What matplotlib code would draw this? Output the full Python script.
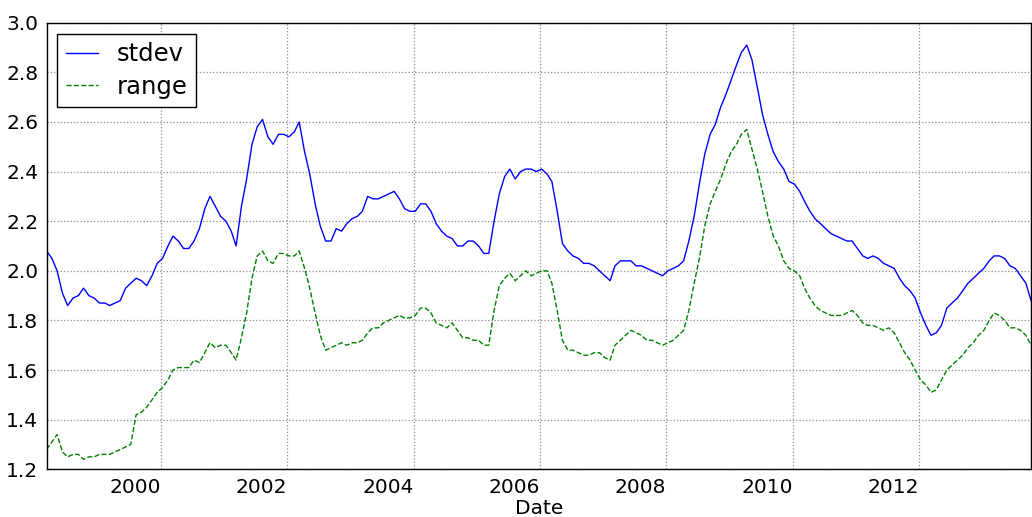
import matplotlib
matplotlib.use("Agg")
import matplotlib.pyplot as plt
import matplotlib.dates as mdates
import numpy as np
import pandas as pd

# monthly readings, Mar 1998 .. Oct 2013
stdev_1998 = [2.08, 2.05, 2.00, 1.91, 1.86, 1.89, 1.90, 1.93, 1.90, 1.89]
stdev_1999 = [1.87, 1.87, 1.86, 1.87, 1.88, 1.93, 1.95, 1.97, 1.96, 1.94, 1.98, 2.03]
stdev_2000 = [2.05, 2.10, 2.14, 2.12, 2.09, 2.09, 2.12, 2.17, 2.25, 2.30, 2.26, 2.22]
stdev_2001 = [2.20, 2.16, 2.10, 2.26, 2.37, 2.51, 2.58, 2.61, 2.54, 2.51, 2.55, 2.55]
stdev_2002 = [2.54, 2.56, 2.60, 2.48, 2.39, 2.27, 2.18, 2.12, 2.12, 2.17, 2.16, 2.19]
stdev_2003 = [2.21, 2.22, 2.24, 2.30, 2.29, 2.29, 2.30, 2.31, 2.32, 2.29, 2.25, 2.24]
stdev_2004 = [2.24, 2.27, 2.27, 2.24, 2.19, 2.16, 2.14, 2.13, 2.10, 2.10, 2.12, 2.12]
stdev_2005 = [2.10, 2.07, 2.07, 2.20, 2.31, 2.38, 2.41, 2.37, 2.40, 2.41, 2.41, 2.40]
stdev_2006 = [2.41, 2.39, 2.36, 2.24, 2.11, 2.08, 2.06, 2.05, 2.03, 2.03, 2.02, 2.00]
stdev_2007 = [1.98, 1.96, 2.02, 2.04, 2.04, 2.04, 2.02, 2.02, 2.01, 2.00, 1.99, 1.98]
stdev_2008 = [2.00, 2.01, 2.02, 2.04, 2.12, 2.22, 2.35, 2.47, 2.55, 2.59, 2.66, 2.71]
stdev_2009 = [2.77, 2.83, 2.88, 2.91, 2.85, 2.74, 2.63, 2.55, 2.48, 2.44, 2.41, 2.36]
stdev_2010 = [2.35, 2.32, 2.28, 2.24, 2.21, 2.19, 2.17, 2.15, 2.14, 2.13, 2.12, 2.12]
stdev_2011 = [2.09, 2.06, 2.05, 2.06, 2.05, 2.03, 2.02, 2.01, 1.97, 1.94, 1.92, 1.89]
stdev_2012 = [1.83, 1.78, 1.74, 1.75, 1.78, 1.85, 1.87, 1.89, 1.92, 1.95, 1.97, 1.99]
stdev_2013 = [2.01, 2.04, 2.06, 2.06, 2.05, 2.02, 2.01, 1.98, 1.95, 1.88]

range_1998 = [1.28, 1.31, 1.34, 1.27, 1.25, 1.26, 1.26, 1.24, 1.25, 1.25]
range_1999 = [1.26, 1.26, 1.26, 1.27, 1.28, 1.29, 1.30, 1.42, 1.43, 1.45, 1.48, 1.51]
range_2000 = [1.53, 1.56, 1.60, 1.61, 1.61, 1.61, 1.64, 1.63, 1.67, 1.71, 1.69, 1.70]
range_2001 = [1.70, 1.67, 1.64, 1.73, 1.83, 1.97, 2.06, 2.08, 2.04, 2.03, 2.07, 2.07]
range_2002 = [2.06, 2.06, 2.08, 2.01, 1.93, 1.83, 1.74, 1.68, 1.69, 1.70, 1.71, 1.70]
range_2003 = [1.71, 1.71, 1.72, 1.75, 1.77, 1.77, 1.79, 1.80, 1.81, 1.82, 1.81, 1.81]
range_2004 = [1.82, 1.85, 1.85, 1.83, 1.79, 1.78, 1.77, 1.79, 1.76, 1.73, 1.73, 1.72]
range_2005 = [1.72, 1.70, 1.70, 1.84, 1.94, 1.97, 1.99, 1.96, 1.98, 2.00, 1.98, 1.99]
range_2006 = [2.00, 2.00, 1.95, 1.84, 1.72, 1.68, 1.68, 1.67, 1.66, 1.66, 1.67, 1.67]
range_2007 = [1.65, 1.64, 1.70, 1.72, 1.74, 1.76, 1.75, 1.74, 1.72, 1.72, 1.71, 1.70]
range_2008 = [1.71, 1.72, 1.74, 1.76, 1.84, 1.95, 2.05, 2.18, 2.27, 2.32, 2.37, 2.43]
range_2009 = [2.48, 2.51, 2.55, 2.57, 2.49, 2.41, 2.32, 2.22, 2.14, 2.10, 2.04, 2.01]
range_2010 = [2.00, 1.98, 1.93, 1.89, 1.86, 1.84, 1.83, 1.82, 1.82, 1.82, 1.83, 1.84]
range_2011 = [1.82, 1.79, 1.78, 1.78, 1.77, 1.76, 1.77, 1.75, 1.71, 1.67, 1.64, 1.60]
range_2012 = [1.56, 1.54, 1.51, 1.52, 1.56, 1.60, 1.62, 1.64, 1.66, 1.69, 1.71, 1.74]
range_2013 = [1.76, 1.80, 1.83, 1.82, 1.80, 1.77, 1.77, 1.76, 1.74, 1.70]

stdev = np.concatenate([stdev_1998, stdev_1999, stdev_2000, stdev_2001, stdev_2002,
                        stdev_2003, stdev_2004, stdev_2005, stdev_2006, stdev_2007,
                        stdev_2008, stdev_2009, stdev_2010, stdev_2011, stdev_2012,
                        stdev_2013])
rng = np.concatenate([range_1998, range_1999, range_2000, range_2001, range_2002,
                      range_2003, range_2004, range_2005, range_2006, range_2007,
                      range_2008, range_2009, range_2010, range_2011, range_2012,
                      range_2013])

dates = pd.date_range("1998-03-01", periods=len(stdev), freq="MS") + pd.Timedelta(days=9)
df = pd.DataFrame({"stdev": stdev, "range": rng}, index=dates)

plt.rcParams["font.family"] = "DejaVu Sans"
plt.rcParams["font.size"] = 14

fig = plt.figure(figsize=(10.32, 5.17), dpi=100)
ax = fig.add_axes([0.0451, 0.0923, 0.954, 0.8638])

ax.plot(df.index, df["stdev"], color="b", lw=1.0, ls="-", label="stdev")
ax.plot(df.index, df["range"], color="g", lw=1.0, ls="--", label="range")

ax.set_xlim(df.index[0], df.index[-1])
ax.set_ylim(1.2, 3.0)
ax.set_yticks(np.arange(1.2, 3.01, 0.2))
ax.yaxis.set_major_formatter(matplotlib.ticker.FormatStrFormatter("%.1f"))

ax.xaxis.set_major_locator(mdates.YearLocator(2))
ax.xaxis.set_major_formatter(mdates.DateFormatter("%Y"))
for lab in ax.get_xticklabels():
    lab.set_ha("right")

ax.tick_params(length=0, labelsize=14.5, pad=6)
ax.grid(True, color="0.55", ls=":", lw=0.9)
ax.set_xlabel("Date", fontsize=14.5, labelpad=2)

leg = ax.legend(loc="upper left", fontsize=17.5, handlelength=1.3,
                fancybox=False, edgecolor="k", framealpha=1, borderaxespad=0.45,
                borderpad=0.35, labelspacing=0.35)
leg.get_frame().set_linewidth(1.0)

for s in ax.spines.values():
    s.set_color("k")
    s.set_linewidth(1.0)

fig.savefig("out.png", dpi=100)
